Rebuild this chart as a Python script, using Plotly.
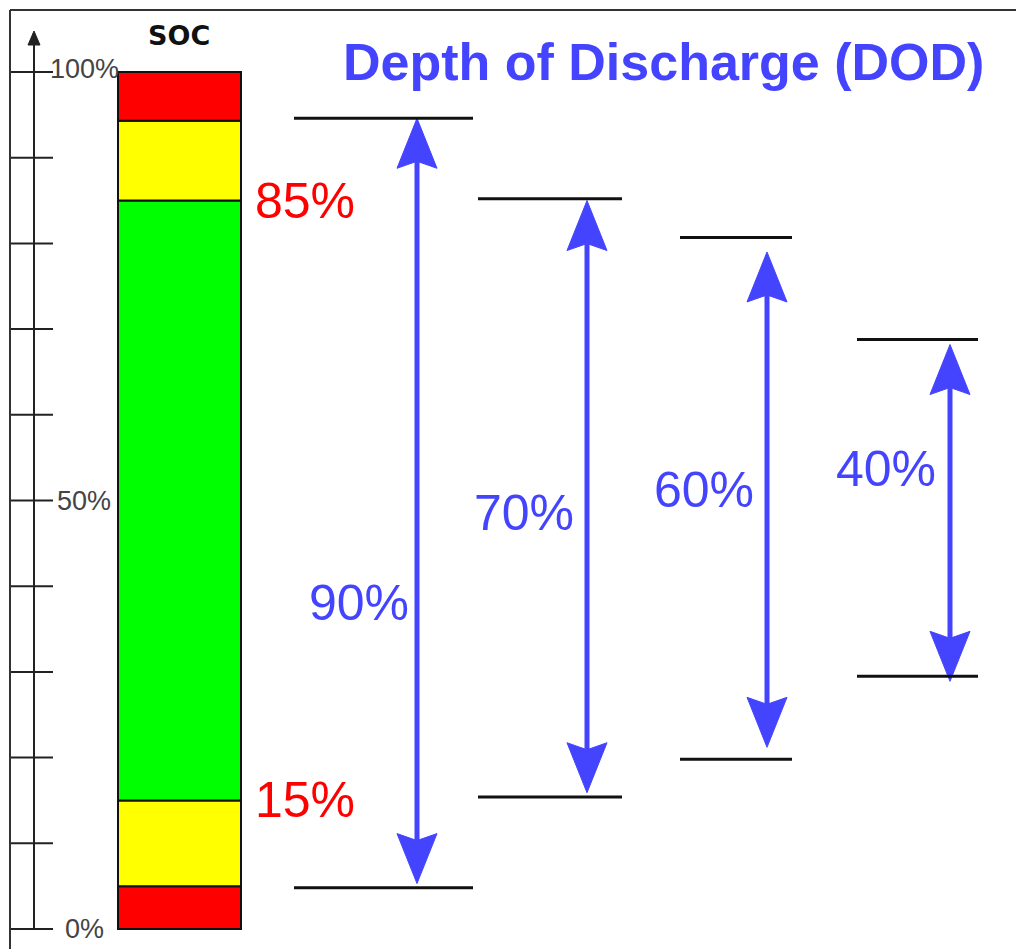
import plotly.graph_objects as go

# ---------------- data ----------------
soc_band_edges = [0, 5, 15, 85, 94.3, 100]
soc_band_colors = ["#ff0000", "#ffff00", "#00ff00", "#ffff00", "#ff0000"]
soc_ticks = [0, 10, 20, 30, 40, 50, 60, 70, 80, 90, 100]
soc_tick_labels = {100: "100%", 50: "50%", 0: "0%"}
limit_labels = [85, 15]

dod_labels = ["90%", "70%", "60%", "40%"]
dod_top = [94.6, 85.2, 80.7, 68.8]      # upper SOC limit lines (as drawn)
dod_bottom = [4.8, 15.4, 19.8, 29.5]    # lower SOC limit lines (as drawn)
arrow_top = [94.6, 85.0, 79.0, 68.2]    # arrow tips
arrow_bottom = [5.3, 15.9, 21.2, 28.9]
dod_label_y = [38.0, 48.6, 51.2, 53.7]

# ---------------- layout constants ----------------
W, H = 1016, 949
Y0_PX, Y100_PX = 929, 72
K = (Y0_PX - Y100_PX) / 100.0      # px per SOC unit
YMIN = -(H - Y0_PX) / K
YMAX = 100 + Y100_PX / K

BLUE = "#4444ff"
FONT = "Arial, Liberation Sans, sans-serif"

bar_x = (118, 241)
axis_x = 34
tick_x = (10, 53)
tick_label_x = {100: 48, 50: 55, 0: 63}
line_spans = [(294, 473), (478, 622), (680, 792), (857, 978)]
arrow_x = [417, 587, 767, 950]
dod_label_x = [359, 524, 704, 886]

fig = go.Figure()

# SOC bar bands
shapes = []
for i, c in enumerate(soc_band_colors):
    shapes.append(dict(type="rect", xref="x", yref="y",
                       x0=bar_x[0], x1=bar_x[1],
                       y0=soc_band_edges[i], y1=soc_band_edges[i + 1],
                       fillcolor=c, line=dict(color="#111", width=2)))

# frame border (top + left)
shapes.append(dict(type="line", xref="x", yref="paper", x0=10, x1=W,
                   y0=1 - 10 / H, y1=1 - 10 / H, line=dict(color="#333", width=2)))
shapes.append(dict(type="line", xref="x", yref="paper", x0=10, x1=10,
                   y0=0, y1=1 - 10 / H, line=dict(color="#333", width=2)))

# DOD limit lines
for (xa, xb), t, b in zip(line_spans, dod_top, dod_bottom):
    for v in (t, b):
        shapes.append(dict(type="line", xref="x", yref="y", x0=xa, x1=xb,
                           y0=v, y1=v, line=dict(color="#111", width=3)))

# SOC axis ticks
tx, ty = [], []
for v in soc_ticks:
    tx += [tick_x[0], tick_x[1], None]
    ty += [v, v, None]
fig.add_trace(go.Scatter(x=tx, y=ty, mode="lines",
                         line=dict(color="#222", width=2), hoverinfo="skip"))
# SOC axis spine with arrow
axis_top = YMAX - 40 / K
fig.add_trace(go.Scatter(x=[axis_x, axis_x], y=[0, axis_top], mode="lines",
                         line=dict(color="#222", width=2), hoverinfo="skip"))
tip = YMAX - 31 / K
fig.add_trace(go.Scatter(x=[axis_x, axis_x - 6, axis_x + 6, axis_x],
                         y=[tip, tip - 14 / K, tip - 14 / K, tip],
                         mode="lines", fill="toself", fillcolor="#222",
                         line=dict(color="#222", width=1), hoverinfo="skip"))

# DOD arrows
HEAD_LEN = 50 / K
NOTCH = 43 / K
HALF_W = 20
for x, t, b in zip(arrow_x, arrow_top, arrow_bottom):
    fig.add_trace(go.Scatter(x=[x, x], y=[t - NOTCH, b + NOTCH], mode="lines",
                             line=dict(color=BLUE, width=5), hoverinfo="skip"))
    fig.add_trace(go.Scatter(x=[x, x - HALF_W, x, x + HALF_W, x],
                             y=[t, t - HEAD_LEN, t - NOTCH, t - HEAD_LEN, t],
                             mode="lines", fill="toself", fillcolor=BLUE,
                             line=dict(color=BLUE, width=1), hoverinfo="skip"))
    fig.add_trace(go.Scatter(x=[x, x - HALF_W, x, x + HALF_W, x],
                             y=[b, b + HEAD_LEN, b + NOTCH, b + HEAD_LEN, b],
                             mode="lines", fill="toself", fillcolor=BLUE,
                             line=dict(color=BLUE, width=1), hoverinfo="skip"))

annotations = []
# tick labels
for v, lab in soc_tick_labels.items():
    annotations.append(dict(x=tick_label_x[v], y=v + 3 / K if v == 100 else v, xref="x", yref="y",
                            text=lab, showarrow=False, xanchor="left", yanchor="middle",
                            font=dict(family=FONT, size=27, color="#444")))
# SOC title
annotations.append(dict(x=179, y=YMAX - 35 / K, xref="x", yref="y", text="<b>SOC</b>",
                        showarrow=False, xanchor="center", yanchor="middle",
                        font=dict(family="DejaVu Sans, sans-serif", size=27, color="#111")))
# red limit labels
for v in limit_labels:
    annotations.append(dict(x=253, y=v, xref="x", yref="y", text=f"{v}%",
                            showarrow=False, xanchor="left", yanchor="middle",
                            font=dict(family=FONT, size=50, color="#ff0000")))
# DOD labels
for x, y, lab in zip(dod_label_x, dod_label_y, dod_labels):
    annotations.append(dict(x=x, y=y, xref="x", yref="y", text=lab,
                            showarrow=False, xanchor="center", yanchor="middle",
                            font=dict(family=FONT, size=50, color=BLUE)))
# main title
annotations.append(dict(x=663, y=YMAX - 62 / K, xref="x", yref="y",
                        text="<b>Depth of Discharge (DOD)</b>",
                        showarrow=False, xanchor="center", yanchor="middle",
                        font=dict(family=FONT, size=52, color=BLUE)))

fig.update_layout(
    width=W, height=H,
    margin=dict(l=0, r=0, t=0, b=0),
    paper_bgcolor="white", plot_bgcolor="white",
    showlegend=False,
    xaxis=dict(range=[0, W], visible=False, fixedrange=True),
    yaxis=dict(range=[YMIN, YMAX], visible=False, fixedrange=True),
    shapes=shapes, annotations=annotations,
)

fig.write_html("out.html", config={"displayModeBar": False},
               post_script="document.body.style.margin='0px';document.body.style.overflow='hidden';")
